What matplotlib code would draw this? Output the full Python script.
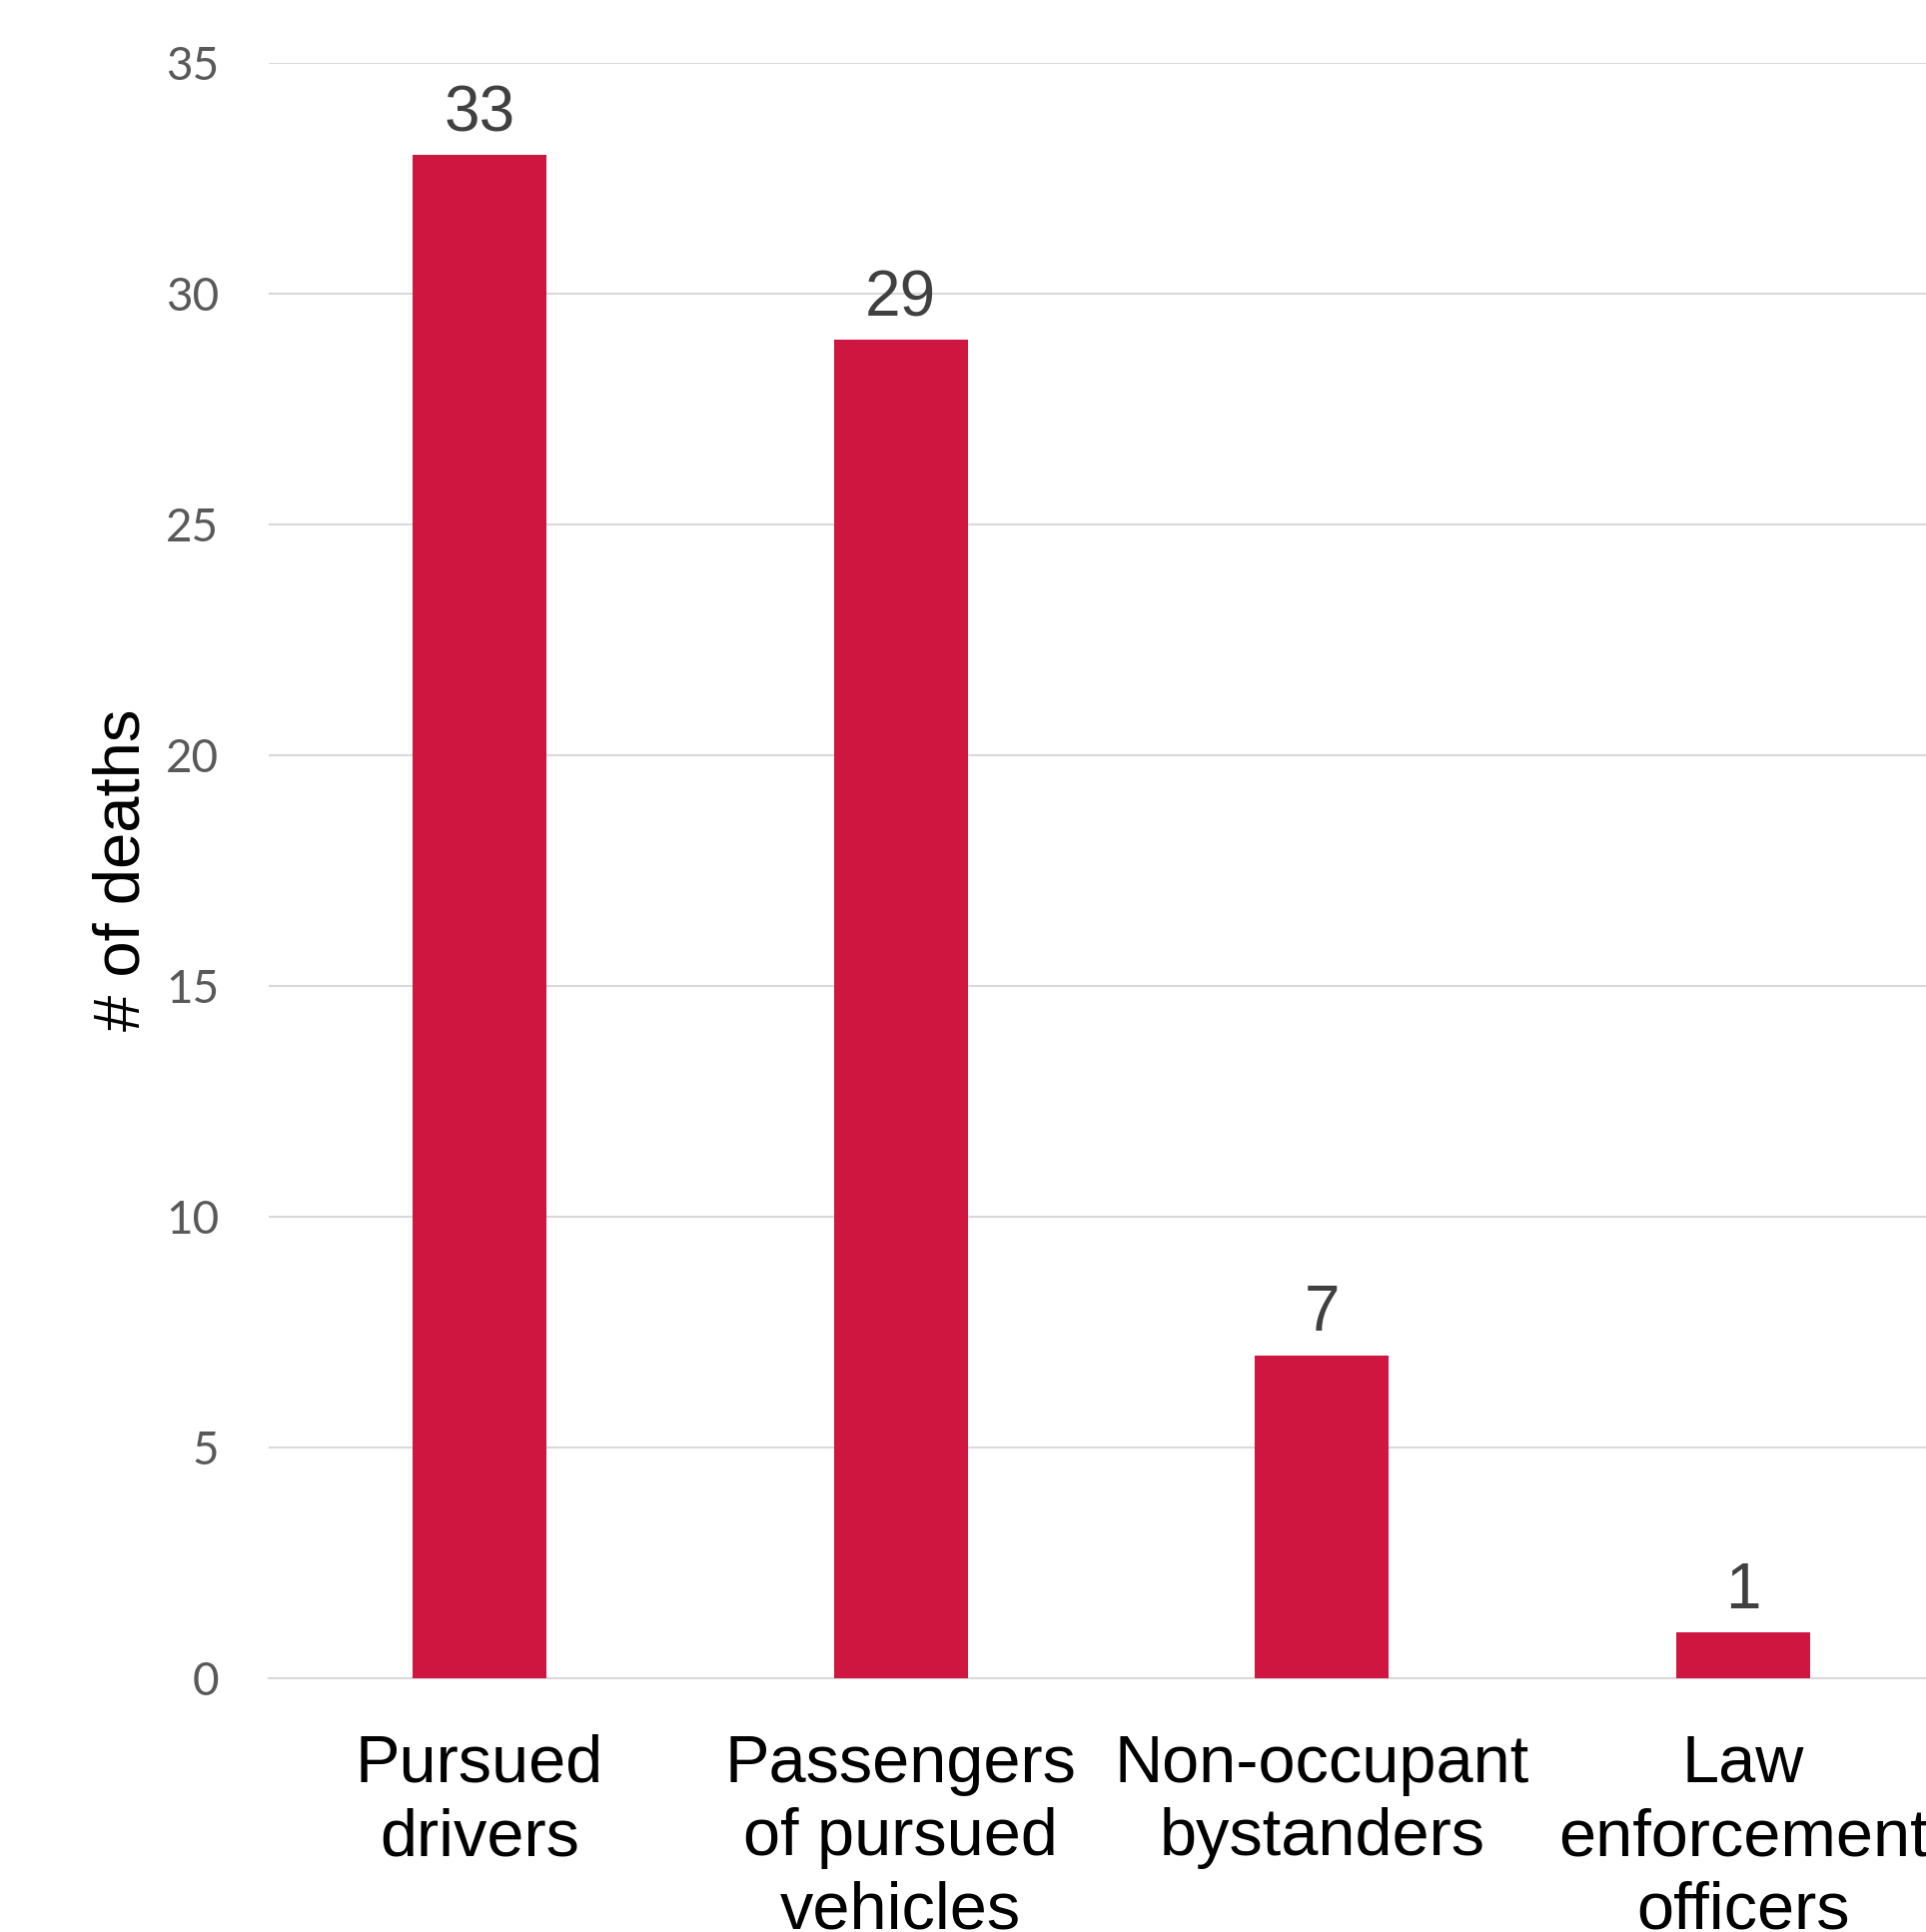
import matplotlib
matplotlib.use("Agg")
import matplotlib.pyplot as plt

categories = ["Pursued\ndrivers", "Passengers\nof pursued\nvehicles", "Non-occupant\nbystanders", "Law\nenforcement\nofficers"]
deaths = [33, 29, 7, 1]
yticks = [0, 5, 10, 15, 20, 25, 30, 35]

W, H = 1928, 1934
fig = plt.figure(figsize=(W / 100, H / 100), dpi=100)
ax = fig.add_axes([269 / W, 1 - 1680 / H, (1956 - 269) / W, (1680 - 63) / H])

x = list(range(len(categories)))
ax.bar(x, deaths, width=0.318, color="#CE1641", zorder=3)
ax.set_xlim(-0.5, 3.5)
ax.set_ylim(0, 35)
ax.set_yticks(yticks)
ax.set_yticklabels([str(v) for v in yticks], fontsize=33, color="#595959", family=["Lato", "DejaVu Sans"])
ax.tick_params(axis="y", length=0, pad=36)
ax.set_xticks(x)
ax.set_xticklabels(categories, fontsize=48, color="black", family=["Liberation Sans", "DejaVu Sans"],
                   linespacing=1.24, va="top")
ax.tick_params(axis="x", length=0, pad=40)
ax.grid(axis="y", color="#D9D9D9", linewidth=1.5, zorder=0)
for s in ["left", "right", "top"]:
    ax.spines[s].set_visible(False)
ax.spines["bottom"].set_color("#D9D9D9")
ax.spines["bottom"].set_linewidth(1.5)

for xi, v in zip(x, deaths):
    ax.annotate(str(v), (xi, v), xytext=(0, 8), textcoords="offset points", ha="center", va="bottom",
                fontsize=46, color="#404040", family=["Liberation Sans", "DejaVu Sans"])

fig.text(122 / W, 1 - 871 / H, "# of deaths", rotation=90, ha="center", va="center",
         fontsize=47, color="black", family=["Liberation Sans", "DejaVu Sans"])

fig.savefig("out.png", dpi=100)
